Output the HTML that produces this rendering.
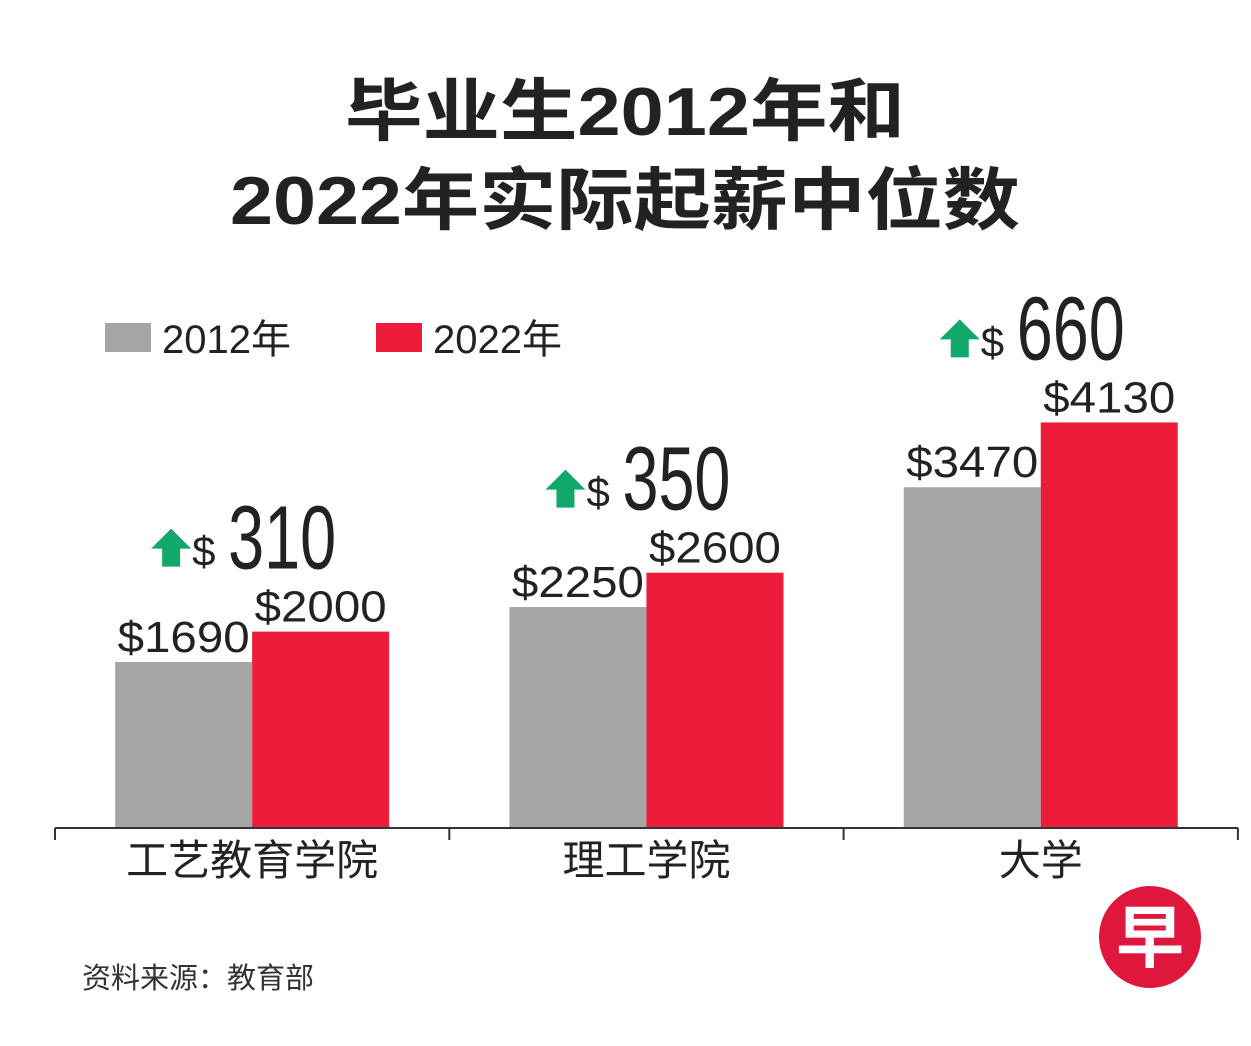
<!DOCTYPE html>
<html><head><meta charset="utf-8">
<style>
body{margin:0;width:1251px;height:1041px;background:#fff;overflow:hidden;font-family:"Liberation Sans","Noto Sans CJK SC",sans-serif;}
svg text{font-family:"Liberation Sans","Noto Sans CJK SC",sans-serif;}
</style></head><body>
<svg id="chart" width="1251" height="1041" xmlns="http://www.w3.org/2000/svg">
<text x="345" y="135" textLength="560" lengthAdjust="spacingAndGlyphs" font-size="68" font-weight="bold" fill="#222">毕业生2012年和</text>
<text x="230" y="224" textLength="790" lengthAdjust="spacingAndGlyphs" font-size="68" font-weight="bold" fill="#222">2022年实际起薪中位数</text>
<rect x="105" y="323" width="46" height="29" fill="#a5a5a5"/>
<text x="162" y="353" font-size="40" fill="#222">2012年</text>
<rect x="376" y="323" width="46" height="29" fill="#ec1c3a"/>
<text x="433" y="353" font-size="40" fill="#222">2022年</text>
<g id="bars"></g>
<text x="82" y="988" font-size="29" fill="#333">资料来源：教育部</text>
<g>
<circle cx="1150" cy="937" r="51" fill="#e0173d"/>
<text x="1150" y="962" text-anchor="middle" font-size="68" font-weight="bold" fill="#fff">早</text>
</g>
</svg>
<script>
const categories=["工艺教育学院","理工学院","大学"];
const values2012=[1690,2250,3470];
const values2022=[2000,2600,4130];
const increaseLabels=["310","350","660"];
const NS="http://www.w3.org/2000/svg";
const g=document.getElementById('bars');
const baseY=828, k=0.0982, x0=55, groupW=394.3, barW=137;
const y=v=>baseY-v*k;
function el(t,a,txt){const e=document.createElementNS(NS,t);for(const n in a)e.setAttribute(n,a[n]);if(txt!=null)e.textContent=txt;g.appendChild(e);return e;}
categories.forEach((c,i)=>{
 const cx=x0+groupW*(i+0.5);
 const r1=el('rect',{x:cx-barW,y:y(values2012[i]),width:barW,height:values2012[i]*k,fill:'#a5a5a5'});
 
 
 const r2=el('rect',{x:cx,y:y(values2022[i]),width:barW,height:values2022[i]*k,fill:'#ec1c3a'});
 
 
 const s1='$'+values2012[i], s2='$'+values2022[i];
 const t1=el('text',{x:cx-barW/2-66,y:y(values2012[i])-10,textLength:132,lengthAdjust:'spacingAndGlyphs','font-size':44,fill:'#222'},s1);
 
 
 const t2=el('text',{x:cx+barW/2-66,y:y(values2022[i])-10,textLength:132,lengthAdjust:'spacingAndGlyphs','font-size':44,fill:'#222'},s2);
 
 
 const cl=el('text',{x:cx,y:baseY+47,'text-anchor':'middle','font-size':42,fill:'#222'},c);
 
 
 const nb=y(values2022[i])-63;
 const nx=cx-24;
 const axc=nx-57;
 const ar=el('polygon',{points:`${axc},${nb-40} ${axc+20},${nb-20} ${axc+9},${nb-20} ${axc+9},${nb-2} ${axc-9},${nb-2} ${axc-9},${nb-20} ${axc-20},${nb-20}`,fill:'#12a86b'});
 
 
 const ds=el('text',{x:nx-36,y:nb-3,'font-size':42,fill:'#222'},'$');
 
 
 const inc=el('text',{x:nx,y:nb,textLength:108,lengthAdjust:'spacingAndGlyphs','font-size':90,fill:'#222'},increaseLabels[i]);
 
 
});
const ax=el('line',{x1:55,y1:baseY,x2:1238,y2:baseY,stroke:'#333','stroke-width':2});


for(let i=0;i<=3;i++){
 const t=el('line',{x1:x0+groupW*i,y1:baseY,x2:x0+groupW*i,y2:baseY+12,stroke:'#333','stroke-width':2});
 
 
}
</script>
</body></html>
